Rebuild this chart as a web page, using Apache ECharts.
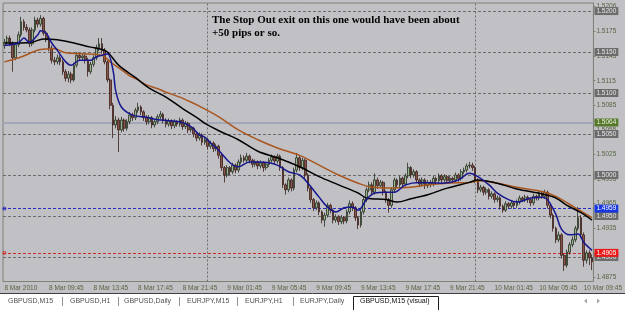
<!DOCTYPE html>
<html><head><meta charset="utf-8">
<script src="https://cdn.jsdelivr.net/npm/echarts@6/dist/echarts.min.js"></script>
<style>html,body{margin:0;padding:0;background:#c1c0c5;}#c{width:625px;height:310px;}</style>
</head><body><div id="c"></div>
<script>
// ---- data ----
const tickLabels = ['8 Mar 2010','8 Mar 09:45','8 Mar 13:45','8 Mar 17:45','8 Mar 21:45','9 Mar 01:45','9 Mar 05:45','9 Mar 09:45','9 Mar 13:45','9 Mar 17:45','9 Mar 21:45','10 Mar 01:45','10 Mar 05:45','10 Mar 09:45'];
const priceTicks = [1.4875,1.4905,1.4935,1.4965,1.4995,1.5025,1.5055,1.5085,1.5115,1.5145,1.5175,1.5206];
const opens = [
1.5158,1.5162,1.5167,1.5160,1.5143,1.5159,1.5171,1.5187,1.5180,1.5177,
1.5160,1.5177,1.5189,1.5184,1.5191,1.5173,1.5165,1.5155,1.5140,1.5138,
1.5143,1.5138,1.5126,1.5118,1.5123,1.5116,1.5134,1.5146,1.5143,1.5145,
1.5140,1.5126,1.5135,1.5143,1.5155,1.5160,1.5152,1.5138,1.5116,1.5085,
1.5061,1.5067,1.5055,1.5067,1.5057,1.5065,1.5073,1.5070,1.5079,1.5083,
1.5077,1.5070,1.5065,1.5070,1.5061,1.5065,1.5071,1.5074,1.5067,1.5062,
1.5066,1.5060,1.5065,1.5062,1.5067,1.5059,1.5063,1.5055,1.5057,1.5050,
1.5045,1.5049,1.5040,1.5043,1.5035,1.5039,1.5032,1.5035,1.5024,1.5009,
1.5000,1.5009,1.5004,1.5012,1.5006,1.5016,1.5021,1.5018,1.5023,1.5018,
1.5013,1.5016,1.5011,1.5015,1.5009,1.5013,1.5018,1.5022,1.5017,1.5023,
1.5009,1.4988,1.4982,1.4994,1.4984,1.5006,1.5021,1.5009,1.5018,1.5000,
1.4984,1.4970,1.4960,1.4966,1.4955,1.4945,1.4951,1.4963,1.4957,1.4945,
1.4949,1.4943,1.4948,1.4944,1.4955,1.4965,1.4960,1.4948,1.4939,1.4955,
1.4970,1.4982,1.4988,1.4979,1.4994,1.4987,1.4991,1.4979,1.4970,1.4963,
1.4982,1.4994,1.4988,1.4996,1.4989,1.4999,1.5009,1.5000,1.5004,1.4994,
1.4989,1.4994,1.4987,1.4991,1.4989,1.4996,1.4993,1.4999,1.4994,1.4998,
1.4993,1.4996,1.4994,1.5000,1.4996,1.5004,1.5006,1.5011,1.5012,1.5009,
1.4994,1.4982,1.4985,1.4979,1.4982,1.4974,1.4977,1.4970,1.4972,1.4962,
1.4957,1.4965,1.4962,1.4966,1.4963,1.4967,1.4972,1.4970,1.4973,1.4970,
1.4966,1.4974,1.4972,1.4978,1.4974,1.4979,1.4963,1.4951,1.4935,1.4921,
1.4927,1.4902,1.4890,1.4906,1.4915,1.4921,1.4935,1.4948,1.4927,1.4896,
1.4905,1.4899];
const closes = [
1.5162,1.5167,1.5160,1.5143,1.5159,1.5171,1.5187,1.5180,1.5177,1.5160,
1.5177,1.5189,1.5184,1.5191,1.5173,1.5165,1.5155,1.5140,1.5138,1.5143,
1.5138,1.5126,1.5118,1.5123,1.5116,1.5134,1.5146,1.5143,1.5145,1.5140,
1.5126,1.5135,1.5143,1.5155,1.5160,1.5152,1.5138,1.5116,1.5085,1.5061,
1.5067,1.5055,1.5067,1.5057,1.5065,1.5073,1.5070,1.5079,1.5083,1.5077,
1.5070,1.5065,1.5070,1.5061,1.5065,1.5071,1.5074,1.5067,1.5062,1.5066,
1.5060,1.5065,1.5062,1.5067,1.5059,1.5063,1.5055,1.5057,1.5050,1.5045,
1.5049,1.5040,1.5043,1.5035,1.5039,1.5032,1.5035,1.5024,1.5009,1.5000,
1.5009,1.5004,1.5012,1.5006,1.5016,1.5021,1.5018,1.5023,1.5018,1.5013,
1.5016,1.5011,1.5015,1.5009,1.5013,1.5018,1.5022,1.5017,1.5023,1.5009,
1.4988,1.4982,1.4994,1.4984,1.5006,1.5021,1.5009,1.5018,1.5000,1.4984,
1.4970,1.4960,1.4966,1.4955,1.4945,1.4951,1.4963,1.4957,1.4945,1.4949,
1.4943,1.4948,1.4944,1.4955,1.4965,1.4960,1.4948,1.4939,1.4955,1.4970,
1.4982,1.4988,1.4979,1.4994,1.4987,1.4991,1.4979,1.4970,1.4963,1.4982,
1.4994,1.4988,1.4996,1.4989,1.4999,1.5009,1.5000,1.5004,1.4994,1.4989,
1.4994,1.4987,1.4991,1.4989,1.4996,1.4993,1.4999,1.4994,1.4998,1.4993,
1.4996,1.4994,1.5000,1.4996,1.5004,1.5006,1.5011,1.5012,1.5009,1.4994,
1.4982,1.4985,1.4979,1.4982,1.4974,1.4977,1.4970,1.4972,1.4962,1.4957,
1.4965,1.4962,1.4966,1.4963,1.4967,1.4972,1.4970,1.4973,1.4970,1.4966,
1.4974,1.4972,1.4978,1.4974,1.4979,1.4963,1.4951,1.4935,1.4921,1.4927,
1.4902,1.4890,1.4906,1.4915,1.4921,1.4935,1.4948,1.4927,1.4896,1.4905,
1.4899,1.4894];
const highs = [
1.5166,1.5170,1.5170,1.5163,1.5162,1.5175,1.5193,1.5190,1.5184,1.5180,
1.5180,1.5193,1.5192,1.5195,1.5193,1.5176,1.5168,1.5158,1.5144,1.5147,
1.5146,1.5141,1.5129,1.5127,1.5126,1.5137,1.5150,1.5149,1.5149,1.5148,
1.5143,1.5138,1.5146,1.5159,1.5167,1.5167,1.5155,1.5140,1.5118,1.5088,
1.5072,1.5070,1.5071,1.5069,1.5068,1.5077,1.5076,1.5082,1.5088,1.5085,
1.5079,1.5073,1.5073,1.5072,1.5068,1.5074,1.5078,1.5076,1.5069,1.5069,
1.5068,1.5068,1.5067,1.5070,1.5069,1.5066,1.5065,1.5060,1.5059,1.5053,
1.5052,1.5051,1.5046,1.5045,1.5042,1.5041,1.5038,1.5037,1.5026,1.5011,
1.5012,1.5011,1.5015,1.5014,1.5019,1.5025,1.5024,1.5027,1.5025,1.5020,
1.5019,1.5018,1.5018,1.5017,1.5016,1.5021,1.5025,1.5024,1.5026,1.5025,
1.5011,1.4990,1.4997,1.4996,1.5009,1.5027,1.5023,1.5021,1.5020,1.5002,
1.4986,1.4972,1.4969,1.4968,1.4957,1.4954,1.4966,1.4965,1.4959,1.4952,
1.4951,1.4951,1.4950,1.4958,1.4969,1.4968,1.4962,1.4950,1.4958,1.4973,
1.4985,1.4992,1.4991,1.5002,1.4997,1.4994,1.4993,1.4981,1.4972,1.4985,
1.4997,1.4996,1.4999,1.4998,1.5002,1.5015,1.5011,1.5007,1.5006,1.4996,
1.4997,1.4996,1.4994,1.4994,1.4999,1.4998,1.5002,1.5001,1.5001,1.5000,
1.4999,1.4998,1.5003,1.5002,1.5007,1.5009,1.5014,1.5016,1.5015,1.5011,
1.4996,1.4988,1.4987,1.4985,1.4984,1.4980,1.4979,1.4975,1.4974,1.4964,
1.4968,1.4967,1.4969,1.4968,1.4970,1.4975,1.4974,1.4976,1.4975,1.4972,
1.4977,1.4976,1.4981,1.4980,1.4982,1.4981,1.4965,1.4953,1.4937,1.4931,
1.4929,1.4904,1.4909,1.4918,1.4925,1.4938,1.4961,1.4951,1.4930,1.4908,
1.4908,1.4903];
const lows = [
1.5154,1.5159,1.5157,1.5126,1.5140,1.5156,1.5168,1.5176,1.5174,1.5156,
1.5157,1.5174,1.5180,1.5181,1.5170,1.5162,1.5151,1.5136,1.5134,1.5135,
1.5134,1.5122,1.5114,1.5113,1.5112,1.5114,1.5131,1.5139,1.5140,1.5136,
1.5120,1.5123,1.5132,1.5140,1.5151,1.5148,1.5135,1.5113,1.5080,1.5045,
1.5057,1.5028,1.5052,1.5053,1.5054,1.5062,1.5066,1.5067,1.5076,1.5073,
1.5066,1.5061,1.5062,1.5057,1.5058,1.5062,1.5068,1.5063,1.5058,1.5059,
1.5056,1.5057,1.5059,1.5059,1.5055,1.5056,1.5051,1.5052,1.5046,1.5041,
1.5042,1.5036,1.5037,1.5031,1.5032,1.5028,1.5029,1.5020,1.5005,1.4991,
1.4997,1.5000,1.5001,1.5002,1.5003,1.5013,1.5015,1.5015,1.5014,1.5009,
1.5010,1.5007,1.5008,1.5004,1.5006,1.5010,1.5015,1.5013,1.5014,1.5005,
1.4984,1.4976,1.4979,1.4980,1.4981,1.5003,1.5005,1.5006,1.4996,1.4980,
1.4966,1.4956,1.4957,1.4951,1.4941,1.4937,1.4948,1.4953,1.4941,1.4942,
1.4939,1.4940,1.4940,1.4941,1.4952,1.4956,1.4944,1.4934,1.4936,1.4952,
1.4967,1.4979,1.4975,1.4976,1.4983,1.4984,1.4975,1.4966,1.4954,1.4960,
1.4979,1.4984,1.4985,1.4985,1.4986,1.4996,1.4996,1.4997,1.4990,1.4985,
1.4986,1.4983,1.4984,1.4985,1.4986,1.4989,1.4990,1.4990,1.4991,1.4989,
1.4990,1.4990,1.4991,1.4992,1.4993,1.5001,1.5003,1.5008,1.5005,1.4990,
1.4978,1.4979,1.4975,1.4976,1.4970,1.4971,1.4966,1.4967,1.4958,1.4954,
1.4955,1.4959,1.4959,1.4960,1.4960,1.4964,1.4967,1.4967,1.4966,1.4962,
1.4963,1.4969,1.4969,1.4971,1.4971,1.4959,1.4947,1.4931,1.4917,1.4918,
1.4898,1.4883,1.4887,1.4903,1.4912,1.4918,1.4932,1.4923,1.4888,1.4892,
1.4890,1.4884];
// moving averages sampled at [bar index, price]
const blueMA = [[0,1.5158],[5,1.5161],[7,1.5167],[9,1.5162],[12,1.5171],[13,1.5176],[15,1.5173],[17,1.5161],[19,1.5152],[22,1.5138],[24,1.5134],[27,1.5140],[31,1.5140],[33,1.5144],[35,1.5146],[37,1.5148],[39,1.5128],[40,1.5102],[42,1.5083],[46,1.5073],[50,1.5071],[56,1.5067],[63,1.5065],[67,1.5059],[70,1.5049],[72,1.5046],[74,1.5039],[77,1.5030],[81,1.5015],[84,1.5010],[88,1.5016],[91,1.5016],[95,1.5015],[98,1.5012],[102,1.5004],[106,1.5000],[109,1.4990],[113,1.4973],[116,1.4961],[119,1.4955],[122,1.4960],[125,1.4961],[127,1.4957],[130,1.4970],[133,1.4978],[137,1.4979],[140,1.4979],[144,1.4988],[149,1.4991],[157,1.4990],[163,1.4994],[167,1.5002],[170,1.4998],[174,1.4988],[177,1.4978],[181,1.4970],[184,1.4967],[189,1.4972],[193,1.4973],[195,1.4970],[198,1.4952],[200,1.4934],[203,1.4927],[206,1.4928],[208,1.4918],[211,1.4908]];
const blackMA = [[0,1.5161],[6,1.5161],[10,1.5162],[14,1.5166],[19,1.5165],[25,1.5161],[31,1.5156],[34,1.5154],[37,1.5150],[41,1.5134],[47,1.5119],[52,1.5106],[58,1.5095],[64,1.5081],[70,1.5068],[72,1.5063],[77,1.5054],[84,1.5043],[91,1.5029],[98,1.5021],[106,1.5010],[113,1.4998],[120,1.4988],[127,1.4978],[130,1.4972],[137,1.4970],[141,1.4967],[146,1.4971],[152,1.4976],[159,1.4984],[167,1.4991],[170,1.4994],[177,1.4990],[184,1.4983],[193,1.4977],[198,1.4972],[202,1.4963],[207,1.4954],[211,1.4945]];
const brownMA = [[0,1.5138],[6,1.5144],[13,1.5153],[18,1.5154],[22,1.5149],[28,1.5148],[35,1.5146],[38,1.5138],[43,1.5126],[45,1.5121],[48,1.5116],[51,1.5110],[56,1.5104],[58,1.5101],[63,1.5095],[65,1.5092],[70,1.5084],[77,1.5071],[84,1.5055],[91,1.5043],[98,1.5033],[106,1.5024],[113,1.5012],[120,1.5000],[127,1.4990],[132,1.4985],[139,1.4984],[146,1.4985],[152,1.4988],[159,1.4990],[167,1.4991],[171,1.4993],[177,1.4990],[184,1.4985],[193,1.4980],[198,1.4974],[205,1.4960],[211,1.4948]];
const gridLevels = [1.5200,1.5150,1.5100,1.5050,1.5000,1.4950,1.4900];
const entryLevel = 1.5064, blueLevel = 1.4959, redLevel = 1.4905;
const separatorBars = [73,169];
const tabNames = ['GBPUSD,M15','GBPUSD,H1','GBPUSD,Daily','EURJPY,M15','EURJPY,H1','EURJPY,Daily'];
const activeTab = 'GBPUSD,M15 (visual)';
const noteText = 'The Stop Out exit on this one would have been about\n+50 pips or so.';

// ---- build ----
const categories = [];
for (let i = 0; i < opens.length; i++) {
  const m = 5*60 + 45 + 15*i;
  const d = 8 + Math.floor(m / 1440), mm = m % 1440;
  const hh = String(Math.floor(mm/60)).padStart(2,'0'), mi = String(mm%60).padStart(2,'0');
  categories.push(d + ' Mar ' + hh + ':' + mi);
}
const candles = opens.map((o,i)=>[o, closes[i], lows[i], highs[i]]);
const FONT = 'Liberation Sans';
const axisCol = '#55633f';
function lvlLabel(bg, fg){
  return {show:true, position:'end', distance:1, formatter:p=>Number(p.value).toFixed(4),
    backgroundColor:bg, color:fg, fontSize:6.5, fontFamily:FONT, padding:[1,2,0,2], lineHeight:7};
}
const markData = [];
gridLevels.forEach(v=>markData.push({yAxis:v, lineStyle:{color:'#6c6c6c',type:[3,2],width:1}, label:lvlLabel('#6c6c6c','#e6e6e6')}));
markData.push({yAxis:entryLevel, lineStyle:{color:'#a2a8b6',type:'solid',width:2}, label:lvlLabel('#56782a','#e8f2d8')});
markData.push({yAxis:blueLevel, lineStyle:{color:'#2a2ac0',type:[3,2],width:1}, label:lvlLabel('#1838e0','#ffffff')});
markData.push({yAxis:redLevel, lineStyle:{color:'#d02828',type:[3,2],width:1}, label:lvlLabel('#e81818','#ffffff')});
separatorBars.forEach(b=>markData.push({xAxis:categories[b], lineStyle:{color:'#6c6c6c',type:[2,2],width:1}, label:{show:false}}));

const tabPos = [8,70,124,187,245,300];
const sepPos = [62,118,179,237,293];
const graphics = [
  {type:'text', left:212, top:14, silent:true, style:{text:noteText, font:'bold 11px "Liberation Serif"', fill:'#000', lineHeight:13}},
  {type:'rect', shape:{x:0,y:293,width:625,height:17}, style:{fill:'#ffffff'}, silent:true},
  {type:'line', shape:{x1:0,y1:293.5,x2:625,y2:293.5}, style:{stroke:'#404040',lineWidth:1}, silent:true},
  {type:'rect', shape:{x:353.5,y:296.5,width:85,height:14}, style:{fill:'#ffffff',stroke:'#202020',lineWidth:1}, silent:true},
  {type:'text', x:360, y:301, style:{text:activeTab, font:'7px "'+FONT+'"', fill:'#101010', verticalAlign:'middle'}, silent:true},
  {type:'polygon', shape:{points:[[584,301],[587,298.5],[587,303.5]]}, style:{fill:'#a8a8a8'}, silent:true},
  {type:'polygon', shape:{points:[[600,301],[597,298.5],[597,303.5]]}, style:{fill:'#a8a8a8'}, silent:true}
];
tabNames.forEach((t,i)=>graphics.push({type:'text', x:tabPos[i], y:301, style:{text:t, font:'7px "'+FONT+'"', fill:'#505050', verticalAlign:'middle'}, silent:true}));
sepPos.forEach(x=>graphics.push({type:'line', shape:{x1:x+0.5,y1:297,x2:x+0.5,y2:306}, style:{stroke:'#909090',lineWidth:1}, silent:true}));

const chart = echarts.init(document.getElementById('c'), null, {renderer:'canvas'});
function maSeries(data, color){
  return {type:'line', data:data, showSymbol:false, smooth:0.35, silent:true, z:5,
    lineStyle:{color:color, width:1.5}, animation:false};
}
chart.setOption({
  animation:false,
  backgroundColor:'#c1c0c5',
  grid:{left:3, right:29, top:3, bottom:28.5, show:true, borderColor:'#7d8475', borderWidth:1, backgroundColor:'#c1c0c5'},
  xAxis:{type:'category', data:categories, boundaryGap:true,
    axisLine:{lineStyle:{color:'#7d8475'}},
    axisTick:{show:false},
    splitLine:{show:false},
    axisLabel:{interval:15, formatter:(v,idx)=>tickLabels[idx/16]||'', align:'left', fontSize:6.5, fontFamily:FONT, color:axisCol, margin:3}},
  yAxis:{type:'value', position:'right', min:1.48701, max:1.52098, scale:true,
    splitLine:{show:false},
    axisLine:{show:true, lineStyle:{color:'#7d8475'}},
    axisTick:{show:true, length:2, customValues:priceTicks, lineStyle:{color:'#7d8475'}},
    axisLabel:{customValues:priceTicks, formatter:v=>v.toFixed(4), fontSize:6.5, fontFamily:FONT, color:axisCol, margin:3}},
  series:[
    {type:'candlestick', data:candles, barWidth:2.2, silent:true, z:3,
      itemStyle:{color:'#9db48f', color0:'#8a5448', borderColor:'#24301f', borderColor0:'#3a1e1a', borderWidth:0.8},
      markLine:{silent:true, precision:4, symbol:['none','none'], animation:false, z:2, data:markData},
      markPoint:{silent:true, animation:false, label:{show:false}, data:[
        {coord:[0, blueLevel], symbol:'circle', symbolSize:3, itemStyle:{color:'none', borderColor:'#2a2ac0', borderWidth:1}},
        {coord:[0, redLevel], symbol:'circle', symbolSize:3, itemStyle:{color:'none', borderColor:'#d02828', borderWidth:1}}
      ]}},
    maSeries(brownMA,'#a9561f'),
    maSeries(blackMA,'#000000'),
    maSeries(blueMA,'#16168e')
  ],
  graphic:graphics
});
</script></body></html>
